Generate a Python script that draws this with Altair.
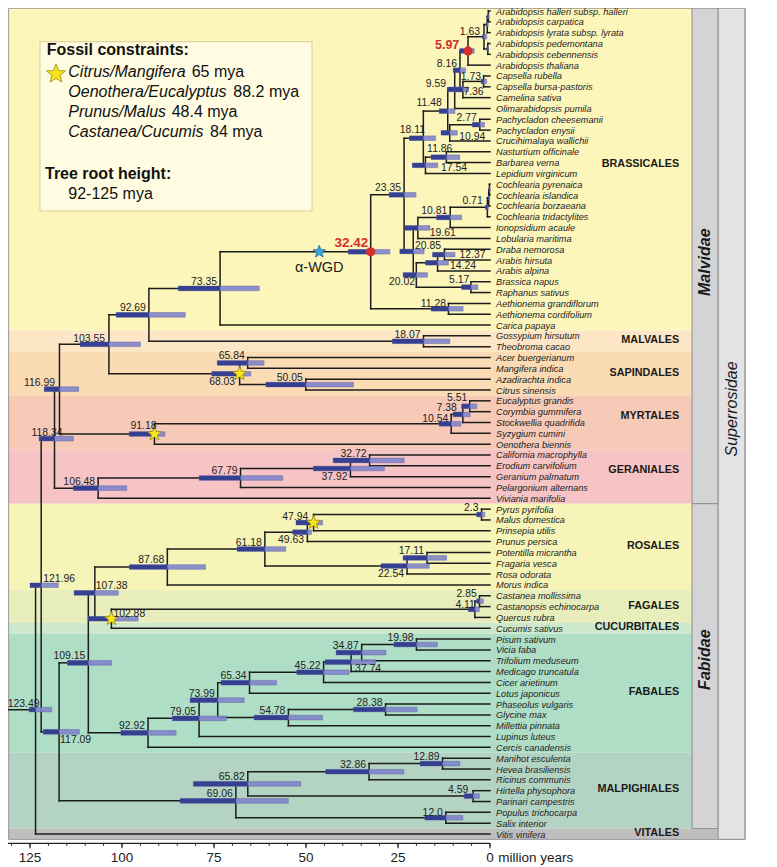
import math
import altair as alt
import pandas as pd

# ---------------- data ----------------
TAXA = [
    "Arabidopsis halleri subsp. halleri", "Arabidopsis carpatica", "Arabidopsis lyrata subsp. lyrata",
    "Arabidopsis pedemontana", "Arabidopsis cebennensis", "Arabidopsis thaliana",
    "Capsella rubella", "Capsella bursa-pastoris", "Camelina sativa", "Olimarabidopsis pumila",
    "Pachycladon cheesemanii", "Pachycladon enysii", "Crucihimalaya wallichii",
    "Nasturtium officinale", "Barbarea verna", "Lepidium virginicum",
    "Cochlearia pyrenaica", "Cochlearia islandica", "Cochlearia borzaeana", "Cochlearia tridactylites",
    "Ionopsidium acaule", "Lobularia maritima", "Draba nemorosa", "Arabis hirsuta", "Arabis alpina",
    "Brassica napus", "Raphanus sativus", "Aethionema grandiflorum", "Aethionema cordifolium",
    "Carica papaya", "Gossypium hirsutum", "Theobroma cacao", "Acer buergerianum", "Mangifera indica",
    "Azadirachta indica", "Citrus sinensis", "Eucalyptus grandis", "Corymbia gummifera",
    "Stockwellia quadrifida", "Syzygium cumini", "Oenothera biennis", "California macrophylla",
    "Erodium carvifolium", "Geranium palmatum", "Pelargonium alternans", "Viviania marifolia",
    "Pyrus pyrifolia", "Malus domestica", "Prinsepia utilis", "Prunus persica", "Potentilla micrantha",
    "Fragaria vesca", "Rosa odorata", "Morus indica", "Castanea mollissima", "Castanopsis echinocarpa",
    "Quercus rubra", "Cucumis sativus", "Pisum sativum", "Vicia faba", "Trifolium meduseum",
    "Medicago truncatula", "Cicer arietinum", "Lotus japonicus", "Phaseolus vulgaris", "Glycine max",
    "Millettia pinnata", "Lupinus luteus", "Cercis canadensis", "Manihot esculenta",
    "Hevea brasiliensis", "Ricinus communis", "Hirtella physophora", "Parinari campestris",
    "Populus trichocarpa", "Salix interior", "Vitis vinifera",
]

CLADE_NAMES = ["BRASSICALES", "MALVALES", "SAPINDALES", "MYRTALES", "GERANIALES", "ROSALES",
               "FAGALES", "CUCURBITALES", "FABALES", "MALPIGHIALES", "VITALES"]
CLADE_FIRST = [0, 30, 32, 36, 41, 46, 54, 57, 58, 69, 76]
CLADE_LAST = [29, 31, 35, 40, 45, 53, 56, 57, 68, 75, 76]
CLADE_LABEL_ROW = [14.1, 30.4, 33.4, 37.4, 42.4, 49.4, 54.9, 56.9, 62.9, 71.8, 75.9]
CLADE_COLORS = ["#FDF6BB", "#FDE6C6", "#FADBB3", "#F7CAB8", "#F6C4C4", "#F7F4B7",
                "#E7EEBB", "#CDE8CB", "#AFDEC6", "#B4D4C3", "#BEBEBE"]

SUBCLASS_NAMES = ["Malvidae", "Fabidae"]
SUBCLASS_FIRST = [0, 46]
SUBCLASS_LAST = [45, 75]
SUBCLASS_LABEL_ROW = [23.2, 59.9]
SUPERCLASS_NAME = "Superrosidae"
SUPERCLASS_LABEL_ROW = 36.75

# internal nodes: age (mya), 95% HPD (older, younger), children (int = taxon row, float = node age)
NODE_AGE = [123.49, 121.96, 118.34, 116.99, 103.55, 92.69, 73.35, 32.42, 23.35, 18.11,
            11.48, 9.59, 8.16, 5.97, 1.63, 0.75, 0.45, 0.6, 7.36, 1.73,
            10.94, 2.77, 17.54, 11.86, 20.85, 19.61, 10.81, 0.71, 0.35, 0.15,
            20.02, 14.24, 12.37, 5.17, 11.28, 18.07, 68.03, 65.84, 50.05, 91.18,
            10.54, 7.38, 5.51, 106.48, 67.79, 37.92, 32.72, 117.09, 109.15, 107.38,
            87.68, 61.18, 49.63, 47.94, 2.3, 22.54, 17.11, 102.88, 4.11, 2.85,
            92.92, 79.05, 73.99, 65.34, 45.22, 37.74, 34.87, 19.98, 54.78, 28.38,
            69.06, 65.82, 32.86, 12.89, 4.59, 12.0]
NODE_HPD_OLD = [125.2, 125.0, 122.5, 121.1, 111.4, 101.6, 84.7, 38.5, 27.4, 21.9,
                13.8, 11.6, 10.0, 8.2, 2.0, 1.0, 0.7, 0.85, 9.5, 2.4,
                13.3, 4.8, 21.1, 16.0, 24.5, 23.1, 14.5, 1.2, 0.5, 0.3,
                23.6, 17.5, 15.6, 7.7, 16.0, 26.5, 75.6, 74.1, 60.9, 98.0,
                13.8, 10.0, 7.7, 113.2, 79.0, 48.0, 42.6, 121.4, 114.8, 113.0,
                98.0, 68.7, 53.6, 52.7, 3.6, 29.6, 23.6, 109.2, 5.9, 3.6,
                100.3, 86.3, 81.5, 73.1, 52.5, 44.8, 41.8, 26.1, 64.1, 37.1,
                84.2, 80.6, 44.6, 19.0, 7.0, 17.7]
NODE_HPD_YOUNG = [119.1, 117.3, 113.2, 111.8, 95.0, 82.8, 62.7, 27.2, 20.1, 14.8,
                  9.5, 7.7, 6.6, 4.3, 0.9, 0.5, 0.25, 0.4, 5.9, 0.9,
                  8.9, 1.5, 14.2, 8.2, 17.9, 16.3, 7.7, 0.5, 0.2, 0.05,
                  17.0, 11.3, 9.5, 3.3, 7.3, 10.9, 65.0, 61.4, 37.1, 88.3,
                  7.9, 5.4, 3.6, 98.7, 56.3, 28.7, 23.3, 111.6, 102.8, 101.0,
                  77.3, 55.5, 48.5, 45.5, 1.4, 16.5, 11.8, 95.6, 2.9, 1.8,
                  85.3, 71.6, 66.8, 58.0, 38.3, 31.1, 28.3, 14.3, 45.5, 19.8,
                  54.8, 51.4, 23.4, 8.2, 2.9, 7.4]
NODE_KIDS = [[121.96, 76], [118.34, 117.09], [116.99, 106.48], [103.55, 91.18], [92.69, 68.03],
             [73.35, 18.07], [32.42, 29], [23.35, 11.28], [18.11, 20.85], [11.48, 17.54],
             [9.59, 10.94], [8.16, 9], [5.97, 7.36], [1.63, 5], [0.75, 0.6],
             [0.45, 2], [0, 1], [3, 4], [1.73, 8], [6, 7],
             [2.77, 12], [10, 11], [11.86, 15], [13, 14], [19.61, 20.02],
             [10.81, 21], [0.71, 20], [0.35, 19], [0.15, 18], [16, 17],
             [14.24, 5.17], [12.37, 24], [22, 23], [25, 26], [27, 28],
             [30, 31], [65.84, 50.05], [32, 33], [34, 35], [10.54, 40],
             [7.38, 39], [5.51, 38], [36, 37], [67.79, 45], [37.92, 44],
             [32.72, 43], [41, 42], [109.15, 69.06], [107.38, 92.92], [87.68, 102.88],
             [61.18, 53], [49.63, 22.54], [47.94, 49], [2.3, 48], [46, 47],
             [17.11, 52], [50, 51], [4.11, 57], [2.85, 56], [54, 55],
             [79.05, 68], [73.99, 67], [65.34, 54.78], [45.22, 63], [37.74, 62],
             [34.87, 61], [19.98, 60], [58, 59], [28.38, 66], [64, 65],
             [65.82, 12.0], [32.86, 4.59], [12.89, 71], [69, 70], [72, 73], [74, 75]]

UNLABELLED_NODES = [0.75, 0.45, 0.6, 0.35, 0.15]
RED_NODES = [32.42, 5.97]
FOSSIL_NODES = [68.03, 91.18, 47.94, 102.88]
WGD_AGE = 46.4          # alpha-WGD on the branch leading to the 32.42 node
ROOT_STEM_AGE = 132

# label placement: (align, dx px, dy px) relative to the node
LABEL_PLACE = {
    118.34: ("right", 8, -2.5), 91.18: ("right", 2, -5), 121.96: ("left", 2, -3),
    107.38: ("left", 1, -3.5), 102.88: ("left", 2, -1.5), 123.49: ("right", 4, -2.7),
    68.03: ("right", -4.5, 11), 37.92: ("right", -3, 11), 49.63: ("right", -3.4, 10.7),
    117.09: ("left", 1, 11.5), 37.74: ("left", 4, 10), 20.85: ("left", 1.7, -2.5),
    19.61: ("left", 12, 8.5), 12.37: ("left", 15, 3), 14.24: ("left", 12.4, 6.5),
    20.02: ("right", -1.3, 10), 17.54: ("left", 15.5, 6), 11.86: ("right", 6, -5.5),
    18.11: ("right", 1.6, -5), 7.36: ("left", 0.5, 5.5), 10.94: ("left", 9.6, 7),
    9.59: ("right", -8.7, -2.6), 11.48: ("right", -6, -5), 1.63: ("right", -4, -2),
    1.73: ("right", -2.6, -1.5), 0.71: ("right", -4.7, -3), 5.17: ("right", -1.7, -4),
    11.28: ("right", -2.5, -2), 103.55: ("right", -4, -2), 116.99: ("right", -4.5, -3.5),
    47.94: ("right", -5.3, -2.7), 7.38: ("right", -6, -3.2), 22.54: ("right", -3, 11.5),
    4.11: ("right", 0, -1.5), 4.59: ("right", -4.8, -3), 12.0: ("right", -3, -2),
    2.85: ("right", -2.8, -4.5), 5.51: ("right", -2.4, -4.8), 10.54: ("right", -3, -1.8),
    32.42: ("right", -2.4, -5), 5.97: ("right", -8.7, -1.5),
}

AXIS_MAJOR = [125, 100, 75, 50, 25, 0]
AXIS_MINOR = list(range(130, -1, -5))

LEGEND_TITLE_1 = "Fossil constraints:"
LEGEND_ITALIC = ["Citrus/Mangifera", "Oenothera/Eucalyptus", "Prunus/Malus", "Castanea/Cucumis"]
LEGEND_AGES = ["65 mya", "88.2 mya", "48.4 mya", "84 mya"]
LEGEND_TITLE_2 = "Tree root height:"
LEGEND_ROOT = "92-125 mya"

# ---------------- layout ----------------
X_DOMAIN, X_RANGE = [130, 0], [3.6, 482]
Y_DOMAIN, Y_RANGE = [0, 76], [3, 826]
PX_PER_MY = (X_RANGE[1] - X_RANGE[0]) / (X_DOMAIN[0] - X_DOMAIN[1])
PX_PER_ROW = (Y_RANGE[1] - Y_RANGE[0]) / (Y_DOMAIN[1] - Y_DOMAIN[0])
FRAME_LEFT, BAND_RIGHT, COL_SPLIT, COL_RIGHT = 130.8, -54.9, -62.0, -69.3
CLADE_LABEL_X = -51.4
FONT = "Liberation Sans, Arial, sans-serif"
INK = "#1c1c1c"

XS = alt.Scale(domain=X_DOMAIN, range=X_RANGE, nice=False, zero=False)
YS = alt.Scale(domain=Y_DOMAIN, range=Y_RANGE, nice=False, zero=False)


def X(f="x"):
    return alt.X(f, type="quantitative", scale=XS, axis=None)


def Y(f="y"):
    return alt.Y(f, type="quantitative", scale=YS, axis=None)


def mx(age, dx):
    return age - dx / PX_PER_MY


def my(row, dy):
    return row + dy / PX_PER_ROW


kids = dict(zip(NODE_AGE, NODE_KIDS))
ypos = {}


def node_y(a):
    ys = [float(k) if isinstance(k, int) else node_y(k) for k in kids[a]]
    ypos[a] = (ys[0] + ys[-1]) / 2
    return ypos[a]


root = NODE_AGE[0]
node_y(root)

# branches
seg = [dict(x=ROOT_STEM_AGE, x2=root, y=ypos[root], y2=ypos[root])]
for a in NODE_AGE:
    cys = []
    for k in kids[a]:
        if isinstance(k, int):
            seg.append(dict(x=a, x2=0, y=k, y2=k))
            cys.append(k)
        else:
            seg.append(dict(x=a, x2=k, y=ypos[k], y2=ypos[k]))
            cys.append(ypos[k])
    seg.append(dict(x=a, x2=a, y=min(cys), y2=max(cys)))
seg_df = pd.DataFrame(seg)

H = 2.3 / PX_PER_ROW
hpd_df = pd.DataFrame([dict(x=o, x2=yg, xm=a, y=ypos[a] - H, y2=ypos[a] + H)
                       for a, o, yg in zip(NODE_AGE, NODE_HPD_OLD, NODE_HPD_YOUNG)])

lab = []
for a in NODE_AGE:
    if a in UNLABELLED_NODES:
        continue
    al, dx, dy = LABEL_PLACE.get(a, ("right", -3, -3.5))
    lab.append(dict(x=mx(a, dx), y=my(ypos[a], dy), text=str(a), side=al,
                    red=bool(a in RED_NODES)))
lab_df = pd.DataFrame(lab)

leaf_df = pd.DataFrame(dict(x=[mx(0, 6)] * len(TAXA), y=list(range(len(TAXA))), text=TAXA))

band_df = pd.DataFrame(dict(
    x=[FRAME_LEFT + 1] * len(CLADE_NAMES),
    x2=[BAND_RIGHT] * (len(CLADE_NAMES) - 1) + [COL_SPLIT],
    y=[f - 0.5 for f in CLADE_FIRST], y2=[l + 0.5 for l in CLADE_LAST],
    c=CLADE_COLORS, name=CLADE_NAMES, ly=CLADE_LABEL_ROW, lx=[CLADE_LABEL_X] * len(CLADE_NAMES)))

col_df = pd.DataFrame(dict(
    x=[BAND_RIGHT, BAND_RIGHT, COL_SPLIT], x2=[COL_SPLIT, COL_SPLIT, COL_RIGHT],
    y=[SUBCLASS_FIRST[0] - 0.5, SUBCLASS_FIRST[1] - 0.5, -0.5],
    y2=[SUBCLASS_LAST[0] + 0.5, SUBCLASS_LAST[1] + 0.5, 76.5],
    c=["#D4D4D6", "#D4D4D6", "#E3E3E5"]))
grp_df = pd.DataFrame(dict(
    x=[(BAND_RIGHT + COL_SPLIT) / 2] * 2 + [(COL_SPLIT + COL_RIGHT) / 2],
    y=SUBCLASS_LABEL_ROW + [SUPERCLASS_LABEL_ROW],
    text=SUBCLASS_NAMES + [SUPERCLASS_NAME], w=["bold", "bold", "normal"]))

frame_df = pd.DataFrame(dict(x=[FRAME_LEFT], x2=[COL_RIGHT], y=[-0.25], y2=[76.5]))

# ---------------- star symbol ----------------
pts = []
for k in range(10):
    ang = math.radians(-90 + 36 * k)
    r = 1.0 if k % 2 == 0 else 0.43
    pts.append(f"{r * math.cos(ang):.3f},{r * math.sin(ang):.3f}")
STAR = "M" + " L".join(pts) + " Z"

# ---------------- layers ----------------
layers = []
layers.append(alt.Chart(band_df).mark_rect().encode(
    x=X(), x2="x2", y=Y(), y2="y2", color=alt.Color("c:N", scale=None)))
layers.append(alt.Chart(col_df).mark_rect(stroke="#8e8e8e", strokeWidth=1).encode(
    x=X(), x2="x2", y=Y(), y2="y2", color=alt.Color("c:N", scale=None)))
layers.append(alt.Chart(frame_df).mark_rect(fill=None, stroke="#9a9a9a", strokeWidth=1).encode(
    x=X(), x2="x2", y=Y(), y2="y2"))

layers.append(alt.Chart(seg_df).mark_rule(color=INK, strokeWidth=1.5, strokeCap="square").encode(
    x=X(), x2="x2", y=Y(), y2="y2"))
layers.append(alt.Chart(hpd_df).mark_rect(fill="#8185CB", opacity=0.9, stroke="#5A5FA8",
                                          strokeWidth=0.5).encode(x=X(), x2="x2", y=Y(), y2="y2"))
layers.append(alt.Chart(hpd_df).mark_rect(fill="#2D398C", opacity=0.9).encode(
    x=X(), x2="xm", y=Y(), y2="y2"))

fos_df = pd.DataFrame(dict(x=FOSSIL_NODES, y=[ypos[a] for a in FOSSIL_NODES]))
layers.append(alt.Chart(fos_df).mark_point(shape=STAR, filled=True, fill="#F7E51C", stroke="#9C8A00",
                                           strokeWidth=0.8, size=210, opacity=1).encode(x=X(), y=Y()))
wgd_df = pd.DataFrame(dict(x=[WGD_AGE], y=[ypos[32.42]], ty=[my(ypos[32.42], 20.5)], text=["α-WGD"]))
layers.append(alt.Chart(wgd_df).mark_point(shape=STAR, filled=True, fill="#3DA6DC", stroke="#2672A3",
                                           strokeWidth=0.8, size=170, opacity=1).encode(x=X(), y=Y()))
layers.append(alt.Chart(wgd_df).mark_text(font=FONT, fontSize=14.5, color=INK, baseline="alphabetic",
                                          align="center").encode(x=X(), y=Y("ty"), text="text"))
red_df = pd.DataFrame(dict(x=RED_NODES, y=[ypos[a] for a in RED_NODES]))
layers.append(alt.Chart(red_df).mark_circle(size=85, color="#D32F2F", opacity=1).encode(x=X(), y=Y()))

for al in ["right", "left"]:
    d = lab_df[(lab_df["side"] == al) & (~lab_df["red"])].reset_index(drop=True)
    layers.append(alt.Chart(d).mark_text(font=FONT, fontSize=10.4, color="#222222", align=al,
                                         baseline="alphabetic").encode(x=X(), y=Y(), text="text:N"))
d = lab_df[lab_df["red"]].reset_index(drop=True).copy()
d["fs"] = [13.5 if t == "32.42" else 12.5 for t in d["text"]]
layers.append(alt.Chart(d).mark_text(font=FONT, fontWeight="bold", color="#D0302C", align="right",
                                     baseline="alphabetic").encode(
    x=X(), y=Y(), text="text:N", size=alt.Size("fs:Q", scale=None)))

layers.append(alt.Chart(leaf_df).mark_text(font=FONT, fontSize=9.2, fontStyle="italic", color="#222222",
                                           align="left", baseline="middle", dy=0.5).encode(
    x=X(), y=Y(), text="text"))
layers.append(alt.Chart(band_df).mark_text(font=FONT, fontSize=10.8, fontWeight="bold", color="#1a1a1a",
                                           align="right", baseline="middle").encode(
    x=X("lx"), y=Y("ly"), text="name"))
for w in ["bold", "normal"]:
    layers.append(alt.Chart(grp_df[grp_df["w"] == w]).mark_text(
        font=FONT, fontSize=16, fontStyle="italic", fontWeight=w, color="#1a1a1a", angle=270,
        align="center", baseline="middle").encode(x=X(), y=Y(), text="text"))

# legend box (pixel layout)
one = pd.DataFrame(dict(k=[0]))
layers.append(alt.Chart(one).mark_rect(fill="#FFFCE2", stroke="#D6CE9C", strokeWidth=1).encode(
    x=alt.value(32), x2=alt.value(304), y=alt.value(33.7), y2=alt.value(203)))
leg_t = pd.DataFrame(dict(text=[LEGEND_TITLE_1, LEGEND_TITLE_2], x=[38.7, 37], y=[47, 171]))
layers.append(alt.Chart(leg_t).mark_text(font=FONT, fontSize=16, fontWeight="bold", color="#111111",
                                         align="left", baseline="alphabetic").encode(
    x=alt.X("x:Q", scale=None, axis=None), y=alt.Y("y:Q", scale=None, axis=None), text="text"))
leg_i = pd.DataFrame(dict(text=LEGEND_ITALIC, x=[60.3] * 4, y=[69.3, 89.3, 109.3, 128.9]))
layers.append(alt.Chart(leg_i).mark_text(font=FONT, fontSize=16, fontStyle="italic", color="#111111",
                                         align="left", baseline="alphabetic").encode(
    x=alt.X("x:Q", scale=None, axis=None), y=alt.Y("y:Q", scale=None, axis=None), text="text"))
leg_n = pd.DataFrame(dict(text=LEGEND_AGES + [LEGEND_ROOT], x=[183.7, 225.3, 163.7, 202, 60.3],
                          y=[69.3, 89.3, 109.3, 128.9, 191]))
layers.append(alt.Chart(leg_n).mark_text(font=FONT, fontSize=16, color="#111111",
                                         align="left", baseline="alphabetic").encode(
    x=alt.X("x:Q", scale=None, axis=None), y=alt.Y("y:Q", scale=None, axis=None), text="text"))
layers.append(alt.Chart(one).mark_point(shape=STAR, filled=True, fill="#F7E51C", stroke="#9C8A00",
                                        strokeWidth=0.8, size=400, opacity=1).encode(
    x=alt.value(48), y=alt.value(66)))

# time axis
AXIS_ROW = 76.86
axl = pd.DataFrame(dict(x=[FRAME_LEFT + 1], x2=[0], y=[AXIS_ROW], y2=[AXIS_ROW]))
layers.append(alt.Chart(axl).mark_rule(color="#222222", strokeWidth=1.2).encode(
    x=X(), x2="x2", y=Y(), y2="y2"))
minor = pd.DataFrame(dict(x=AXIS_MINOR, y=[AXIS_ROW] * len(AXIS_MINOR),
                          y2=[my(AXIS_ROW, 2.5)] * len(AXIS_MINOR)))
layers.append(alt.Chart(minor).mark_rule(color="#222222", strokeWidth=1).encode(
    x=X(), y=Y(), y2="y2"))
major = pd.DataFrame(dict(x=AXIS_MAJOR, y=[AXIS_ROW] * len(AXIS_MAJOR),
                          y2=[my(AXIS_ROW, 5)] * len(AXIS_MAJOR),
                          ty=[my(AXIS_ROW, 19)] * len(AXIS_MAJOR),
                          text=[str(v) for v in AXIS_MAJOR]))
layers.append(alt.Chart(major).mark_rule(color="#222222", strokeWidth=1.2).encode(
    x=X(), y=Y(), y2="y2"))
layers.append(alt.Chart(major).mark_text(font=FONT, fontSize=13.5, color="#222222", align="center",
                                         baseline="alphabetic").encode(x=X(), y=Y("ty"), text="text"))
unit = pd.DataFrame(dict(x=[mx(0, 8.3)], y=[my(AXIS_ROW, 19)], text=["million years"]))
layers.append(alt.Chart(unit).mark_text(font=FONT, fontSize=13.5, color="#222222", align="left",
                                        baseline="alphabetic").encode(x=X(), y=Y(), text="text"))

chart = alt.layer(*layers).properties(
    width=760, height=858, padding=0, autosize=alt.AutoSizeParams(type="none"),
    background="white",
).configure_view(stroke=None)

chart.save("out.html", embed_options={"renderer": "svg", "actions": False})
